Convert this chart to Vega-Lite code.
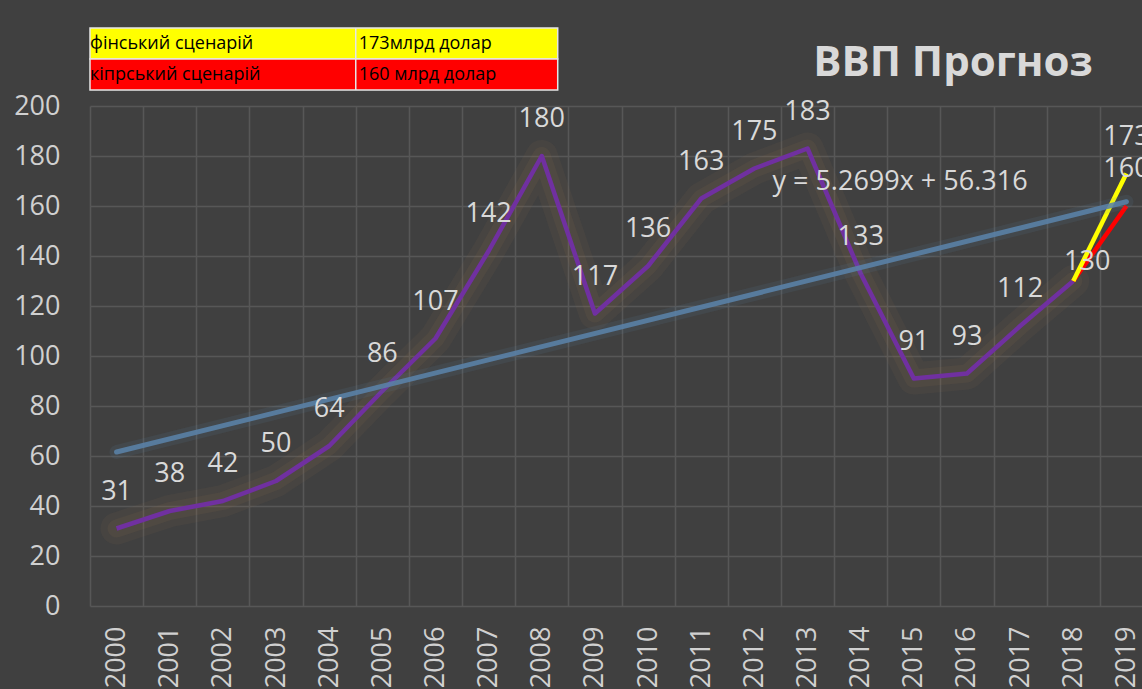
{
  "$schema": "https://vega.github.io/schema/vega-lite/v6.json",
  "width": 1052,
  "height": 500,
  "autosize": "none",
  "padding": {"left": 90, "top": 106, "right": 0, "bottom": 83},
  "background": "#404040",
  "config": {
    "view": {"stroke": null},
    "font": "Open Sans",
    "axisX": {"domain": false, "ticks": false, "labelAngle": -90, "labelFontSize": 27, "labelColor": "#d0d0d0", "labelPadding": 20, "tickBand": "extent", "grid": true, "gridColor": "#575757", "gridWidth": 1.5, "labelOverlap": false},
    "axisY": {"domain": false, "ticks": false, "labelFontSize": 27, "labelColor": "#d0d0d0", "labelPadding": 30, "gridColor": "#575757", "gridWidth": 1.5}
  },
  "datasets": {
    "gdp": [
      {"year": 2000, "gdp": 31}, {"year": 2001, "gdp": 38}, {"year": 2002, "gdp": 42},
      {"year": 2003, "gdp": 50}, {"year": 2004, "gdp": 64}, {"year": 2005, "gdp": 86},
      {"year": 2006, "gdp": 107}, {"year": 2007, "gdp": 142}, {"year": 2008, "gdp": 180},
      {"year": 2009, "gdp": 117}, {"year": 2010, "gdp": 136}, {"year": 2011, "gdp": 163},
      {"year": 2012, "gdp": 175}, {"year": 2013, "gdp": 183}, {"year": 2014, "gdp": 133},
      {"year": 2015, "gdp": 91}, {"year": 2016, "gdp": 93}, {"year": 2017, "gdp": 112},
      {"year": 2018, "gdp": 130}
    ],
    "scen": [
      {"year": 2018, "gdp": 130, "scenario": "кіпрський"},
      {"year": 2019, "gdp": 160, "scenario": "кіпрський"},
      {"year": 2018, "gdp": 130, "scenario": "фінський"},
      {"year": 2019, "gdp": 173, "scenario": "фінський"}
    ],
    "trend": [
      {"year": 2000, "gdp": 61.586},
      {"year": 2019, "gdp": 161.714}
    ],
    "table": [
      {"row": "fin", "scenario": "фінський сценарій", "amount": "173млрд долар"},
      {"row": "cyp", "scenario": "кіпрський сценарій", "amount": "160 млрд долар"}
    ]
  },
  "layer": [
    {
      "data": {"name": "gdp"},
      "mark": {"type": "line", "color": "#8a6a50", "opacity": 0.1, "strokeWidth": 32, "strokeCap": "round", "strokeJoin": "round"},
      "encoding": {
        "x": {"field": "year", "type": "ordinal", "bandPosition": 0.5, "title": null,
              "scale": {"type": "band", "domain": [2000,2001,2002,2003,2004,2005,2006,2007,2008,2009,2010,2011,2012,2013,2014,2015,2016,2017,2018,2019], "range": [0, 1063], "paddingInner": 0, "paddingOuter": 0},
              "axis": {"tickBand": "extent", "grid": true}},
        "y": {"field": "gdp", "type": "quantitative", "title": null,
              "scale": {"domain": [0, 200], "nice": false},
              "axis": {"values": [0,20,40,60,80,100,120,140,160,180,200]}}
      }
    },
    {
      "data": {"name": "gdp"},
      "mark": {"type": "line", "color": "#8a6a50", "opacity": 0.13, "strokeWidth": 18, "strokeCap": "round", "strokeJoin": "round"},
      "encoding": {
        "x": {"field": "year", "type": "ordinal", "bandPosition": 0.5, "title": null},
        "y": {"field": "gdp", "type": "quantitative", "title": null}
      }
    },
    {
      "data": {"name": "gdp"},
      "mark": {"type": "line", "color": "#7030a0", "strokeWidth": 4.5, "strokeJoin": "round"},
      "encoding": {
        "x": {"field": "year", "type": "ordinal", "bandPosition": 0.5, "title": null},
        "y": {"field": "gdp", "type": "quantitative", "title": null}
      }
    },
    {
      "data": {"name": "scen"},
      "transform": [{"filter": "datum.scenario === 'кіпрський'"}],
      "mark": {"type": "line", "color": "#ff0000", "strokeWidth": 4.5},
      "encoding": {
        "x": {"field": "year", "type": "ordinal", "bandPosition": 0.5, "title": null},
        "y": {"field": "gdp", "type": "quantitative", "title": null}
      }
    },
    {
      "data": {"name": "scen"},
      "transform": [{"filter": "datum.scenario === 'фінський'"}],
      "mark": {"type": "line", "color": "#ffff00", "strokeWidth": 4.5},
      "encoding": {
        "x": {"field": "year", "type": "ordinal", "bandPosition": 0.5, "title": null},
        "y": {"field": "gdp", "type": "quantitative", "title": null}
      }
    },
    {
      "data": {"name": "trend"},
      "mark": {"type": "line", "color": "#5a82a8", "opacity": 0.12, "strokeWidth": 14, "strokeCap": "round"},
      "encoding": {
        "x": {"field": "year", "type": "ordinal", "bandPosition": 0.5, "title": null},
        "y": {"field": "gdp", "type": "quantitative", "title": null}
      }
    },
    {
      "data": {"name": "trend"},
      "mark": {"type": "line", "color": "#5a82a8", "opacity": 0.88, "strokeWidth": 5, "strokeCap": "round"},
      "encoding": {
        "x": {"field": "year", "type": "ordinal", "bandPosition": 0.5, "title": null},
        "y": {"field": "gdp", "type": "quantitative", "title": null}
      }
    },
    {
      "data": {"name": "gdp"},
      "transform": [{"filter": "datum.year !== 2018"}],
      "mark": {"type": "text", "fontSize": 27, "color": "#d9d9d9", "baseline": "middle", "dy": -37},
      "encoding": {
        "x": {"field": "year", "type": "ordinal", "bandPosition": 0.5, "title": null},
        "y": {"field": "gdp", "type": "quantitative", "title": null},
        "text": {"field": "gdp", "type": "quantitative"}
      }
    },
    {
      "data": {"name": "gdp"},
      "transform": [{"filter": "datum.year === 2018"}],
      "mark": {"type": "text", "fontSize": 27, "color": "#d9d9d9", "baseline": "middle", "dy": -19, "dx": 14},
      "encoding": {
        "x": {"field": "year", "type": "ordinal", "bandPosition": 0.5, "title": null},
        "y": {"field": "gdp", "type": "quantitative", "title": null},
        "text": {"field": "gdp", "type": "quantitative"}
      }
    },
    {
      "data": {"name": "scen"},
      "transform": [{"filter": "datum.year === 2019"}],
      "mark": {"type": "text", "fontSize": 27, "color": "#d9d9d9", "baseline": "middle", "dy": -37},
      "encoding": {
        "x": {"field": "year", "type": "ordinal", "bandPosition": 0.5, "title": null},
        "y": {"field": "gdp", "type": "quantitative", "title": null},
        "text": {"field": "gdp", "type": "quantitative"}
      }
    },
    {
      "data": {"values": [{"t": "y = 5.2699x + 56.316"}]},
      "mark": {"type": "text", "fontSize": 27, "color": "#d9d9d9", "baseline": "middle", "align": "center"},
      "encoding": {
        "x": {"datum": 2015, "type": "ordinal", "bandPosition": 0.24, "title": null},
        "y": {"datum": 169.6, "type": "quantitative", "title": null},
        "text": {"field": "t"}
      }
    },
    {
      "data": {"values": [{"t": "ВВП Прогноз"}]},
      "mark": {"type": "text", "fontSize": 42, "fontWeight": "bold", "color": "#d9d9d9", "baseline": "alphabetic", "align": "right"},
      "encoding": {
        "x": {"datum": 2018, "type": "ordinal", "bandPosition": 0.87, "title": null},
        "y": {"datum": 212, "type": "quantitative", "title": null},
        "text": {"field": "t"}
      }
    },
    {
      "data": {"name": "table"},
      "transform": [{"filter": "datum.row === 'fin'"}],
      "mark": {"type": "rect", "fill": "#ffff00", "stroke": "#e6e6e6", "strokeWidth": 1.5},
      "encoding": {
        "x": {"datum": 2000, "type": "ordinal", "bandPosition": 0, "title": null},
        "x2": {"datum": 2008, "bandPosition": 0.8},
        "y": {"datum": 231.2, "type": "quantitative", "title": null},
        "y2": {"datum": 218.8}
      }
    },
    {
      "data": {"name": "table"},
      "transform": [{"filter": "datum.row === 'cyp'"}],
      "mark": {"type": "rect", "fill": "#ff0000", "stroke": "#e6e6e6", "strokeWidth": 1.5},
      "encoding": {
        "x": {"datum": 2000, "type": "ordinal", "bandPosition": 0, "title": null},
        "x2": {"datum": 2008, "bandPosition": 0.8},
        "y": {"datum": 218.8, "type": "quantitative", "title": null},
        "y2": {"datum": 206.4}
      }
    },
    {
      "data": {"values": [{}]},
      "mark": {"type": "rule", "color": "#e6e6e6", "strokeWidth": 1.5},
      "encoding": {
        "x": {"datum": 2005, "type": "ordinal", "bandPosition": 0, "title": null},
        "y": {"datum": 231.2, "type": "quantitative", "title": null},
        "y2": {"datum": 206.4}
      }
    },
    {
      "data": {"name": "table"},
      "transform": [{"filter": "datum.row === 'fin'"}],
      "mark": {"type": "text", "fontSize": 18, "color": "#000000", "align": "left", "baseline": "middle", "dx": 0},
      "encoding": {
        "x": {"datum": 2000, "type": "ordinal", "bandPosition": 0, "title": null},
        "y": {"datum": 224.8, "type": "quantitative", "title": null},
        "text": {"field": "scenario"}
      }
    },
    {
      "data": {"name": "table"},
      "transform": [{"filter": "datum.row === 'fin'"}],
      "mark": {"type": "text", "fontSize": 18, "color": "#000000", "align": "left", "baseline": "middle", "dx": 3},
      "encoding": {
        "x": {"datum": 2005, "type": "ordinal", "bandPosition": 0, "title": null},
        "y": {"datum": 224.8, "type": "quantitative", "title": null},
        "text": {"field": "amount"}
      }
    },
    {
      "data": {"name": "table"},
      "transform": [{"filter": "datum.row === 'cyp'"}],
      "mark": {"type": "text", "fontSize": 18, "color": "#000000", "align": "left", "baseline": "middle", "dx": 0},
      "encoding": {
        "x": {"datum": 2000, "type": "ordinal", "bandPosition": 0, "title": null},
        "y": {"datum": 212.4, "type": "quantitative", "title": null},
        "text": {"field": "scenario"}
      }
    },
    {
      "data": {"name": "table"},
      "transform": [{"filter": "datum.row === 'cyp'"}],
      "mark": {"type": "text", "fontSize": 18, "color": "#000000", "align": "left", "baseline": "middle", "dx": 3},
      "encoding": {
        "x": {"datum": 2005, "type": "ordinal", "bandPosition": 0, "title": null},
        "y": {"datum": 212.4, "type": "quantitative", "title": null},
        "text": {"field": "amount"}
      }
    }
  ]
}
